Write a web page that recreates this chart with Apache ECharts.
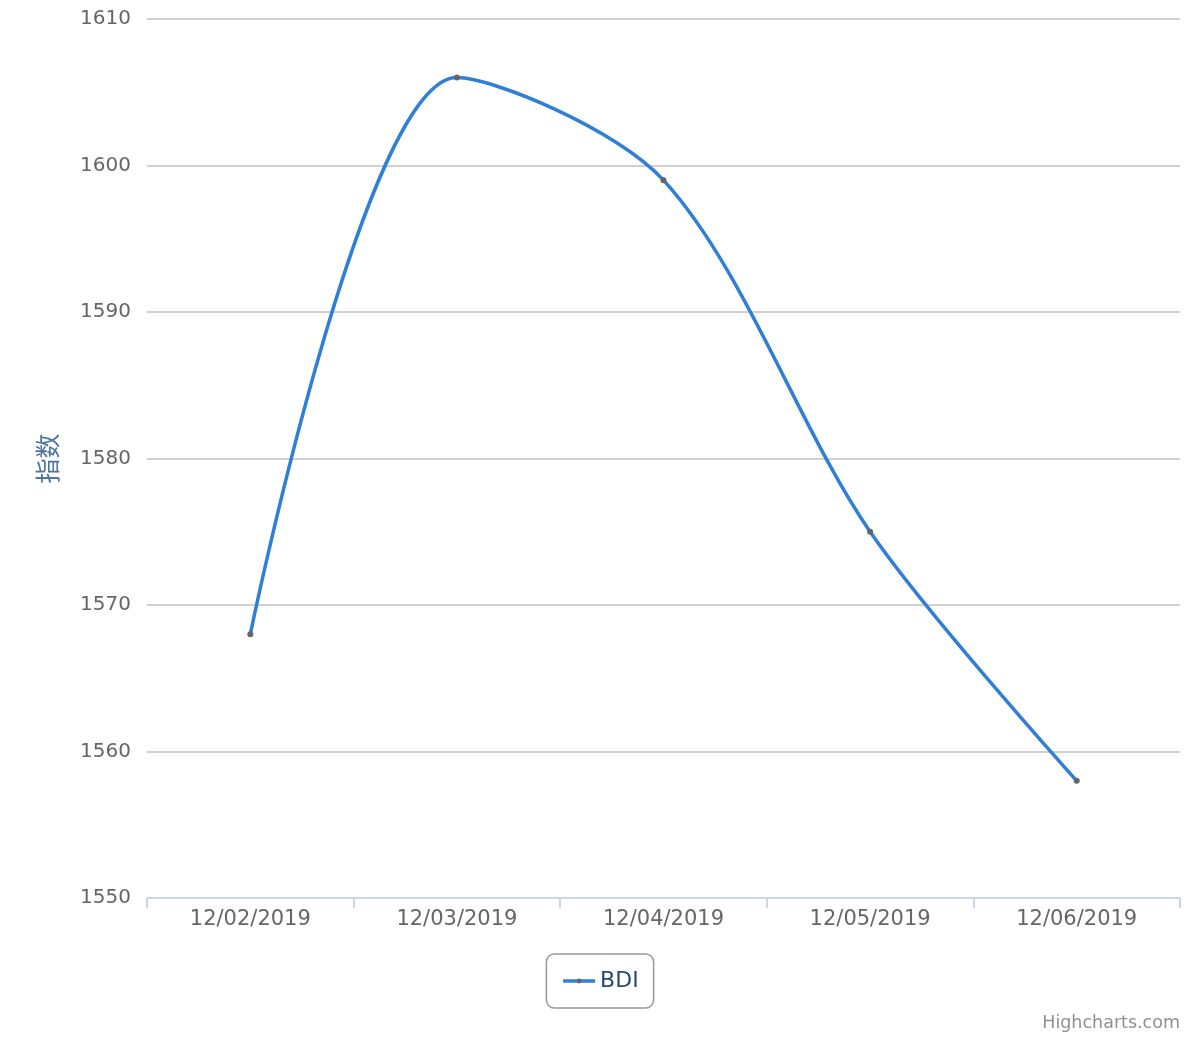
<!DOCTYPE html>
<html><head><meta charset="utf-8">
<script src="https://cdn.jsdelivr.net/npm/echarts@6/dist/echarts.min.js"></script>
<style>html,body{margin:0;padding:0;background:#fff}#c{width:1200px;height:1040px}</style>
</head><body><div id="c"></div>
<script>
const categories = ['12/02/2019','12/03/2019','12/04/2019','12/05/2019','12/06/2019'];
const bdiValues = [1568, 1606, 1599, 1575, 1558];
const seriesName = 'BDI';
const yAxisName = '指数';

const chart = echarts.init(document.getElementById('c'));
chart.setOption({
  animation: false,
  backgroundColor: '#ffffff',
  grid: {left: 147, right: 20, top: 19, bottom: 142, containLabel: false},
  xAxis: {
    type: 'category', data: categories, boundaryGap: true,
    axisLine: {lineStyle: {color: '#ccd6eb', width: 2}},
    axisTick: {show: true, length: 10, lineStyle: {color: '#ccd6eb', width: 2}},
    axisLabel: {color: '#666666', fontSize: 21, fontFamily: 'DejaVu Sans', margin: 11}
  },
  yAxis: {
    type: 'value', min: 1550, max: 1610, interval: 10,
    name: yAxisName, nameLocation: 'middle', nameRotate: 90, nameGap: 87,
    nameTextStyle: {color: '#4d759e', fontSize: 25, fontFamily: 'Noto Sans CJK SC'},
    axisLine: {show: false}, axisTick: {show: false},
    splitLine: {lineStyle: {color: '#c0c0c0', width: 1.5}},
    axisLabel: {color: '#666666', fontSize: 20, fontFamily: 'DejaVu Sans', margin: 16,
      formatter: function (v) { return String(v); }}
  },
  legend: {
    show: true, bottom: 32, left: 'center',
    borderColor: '#999999', borderWidth: 1.5, borderRadius: 8,
    padding: [16, 15, 16, 15], itemWidth: 32, itemHeight: 6, itemGap: 10,
    textStyle: {color: '#274b6d', fontSize: 22, fontFamily: 'DejaVu Sans'},
    lineStyle: {width: 3.5},
    data: [seriesName]
  },
  graphic: [{
    type: 'text', right: 20, bottom: 8,
    style: {text: 'Highcharts.com', fill: '#909090', fontSize: 17.5, fontFamily: 'DejaVu Sans'}
  }],
  series: [{
    name: seriesName, type: 'line', data: bdiValues, smooth: 0.31,
    symbol: 'circle', symbolSize: 6, showSymbol: true,
    lineStyle: {color: '#2f7ed8', width: 3.5},
    itemStyle: {color: '#666666'}, z: 3
  }]
});
</script></body></html>
